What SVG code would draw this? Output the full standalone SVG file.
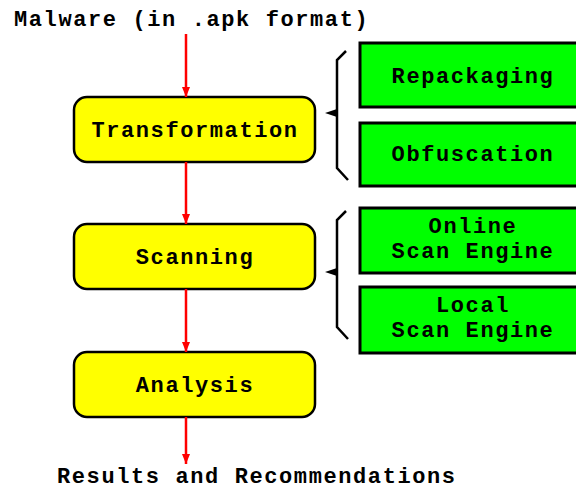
<svg xmlns="http://www.w3.org/2000/svg" width="576" height="489" viewBox="0 0 576 489">
<defs>
<style>
text{font-family:"Liberation Mono","Courier New",monospace;font-weight:bold;font-size:22px;letter-spacing:1.6px;fill:#000}
.c{text-anchor:middle}
.y{fill:#ffff00;stroke:#000;stroke-width:2.5}
.g{fill:#00ff00;stroke:#000;stroke-width:3}
.a{stroke:#ff0000;stroke-width:2.5;fill:none;marker-end:url(#ra)}
.b{stroke:#000;stroke-width:2.5;fill:none}
</style>
<marker id="ra" viewBox="0 0 10 8" refX="10" refY="4" markerWidth="10" markerHeight="8" markerUnits="userSpaceOnUse" orient="auto">
<path d="M0,0 L10,4 L0,8 Z" fill="#ff0000"/>
</marker>
</defs>
<text id="input" x="14" y="26">Malware (in .apk format)</text>
<g id="transformation"><rect class="y" x="74" y="97" width="241" height="65" rx="13"/><text class="c" x="195" y="137">Transformation</text></g>
<g id="scanning"><rect class="y" x="74" y="224" width="241" height="65" rx="13"/><text class="c" x="195" y="264">Scanning</text></g>
<g id="analysis"><rect class="y" x="74" y="352" width="241" height="65" rx="13"/><text class="c" x="195" y="392">Analysis</text></g>
<g id="repackaging"><rect class="g" x="360" y="43" width="230" height="64"/><text class="c" x="473" y="83">Repackaging</text></g>
<g id="obfuscation"><rect class="g" x="360" y="123" width="230" height="63"/><text class="c" x="473" y="161">Obfuscation</text></g>
<g id="online"><rect class="g" x="360" y="208" width="230" height="65"/><text class="c" x="473" y="233">Online</text><text class="c" x="473" y="258">Scan Engine</text></g>
<g id="local"><rect class="g" x="360" y="287" width="230" height="66"/><text class="c" x="473" y="312">Local</text><text class="c" x="473" y="337">Scan Engine</text></g>
<text id="output" x="57" y="483">Results and Recommendations</text>
<g id="connectors">
<line class="a" x1="186" y1="34" x2="186" y2="97"/>
<line class="a" x1="186" y1="162" x2="186" y2="224"/>
<line class="a" x1="186" y1="289" x2="186" y2="352"/>
<line class="a" x1="186" y1="417" x2="186" y2="464"/>
<path class="b" d="M346,51 L337,60 L337,168 L348,180"/>
<path d="M325,113 L337,109 L337,117 Z" fill="#000"/>
<path class="b" d="M346,211 L337,220 L337,327 L348,339"/>
<path d="M325,272 L337,268 L337,276 Z" fill="#000"/>
</g>
</svg>
